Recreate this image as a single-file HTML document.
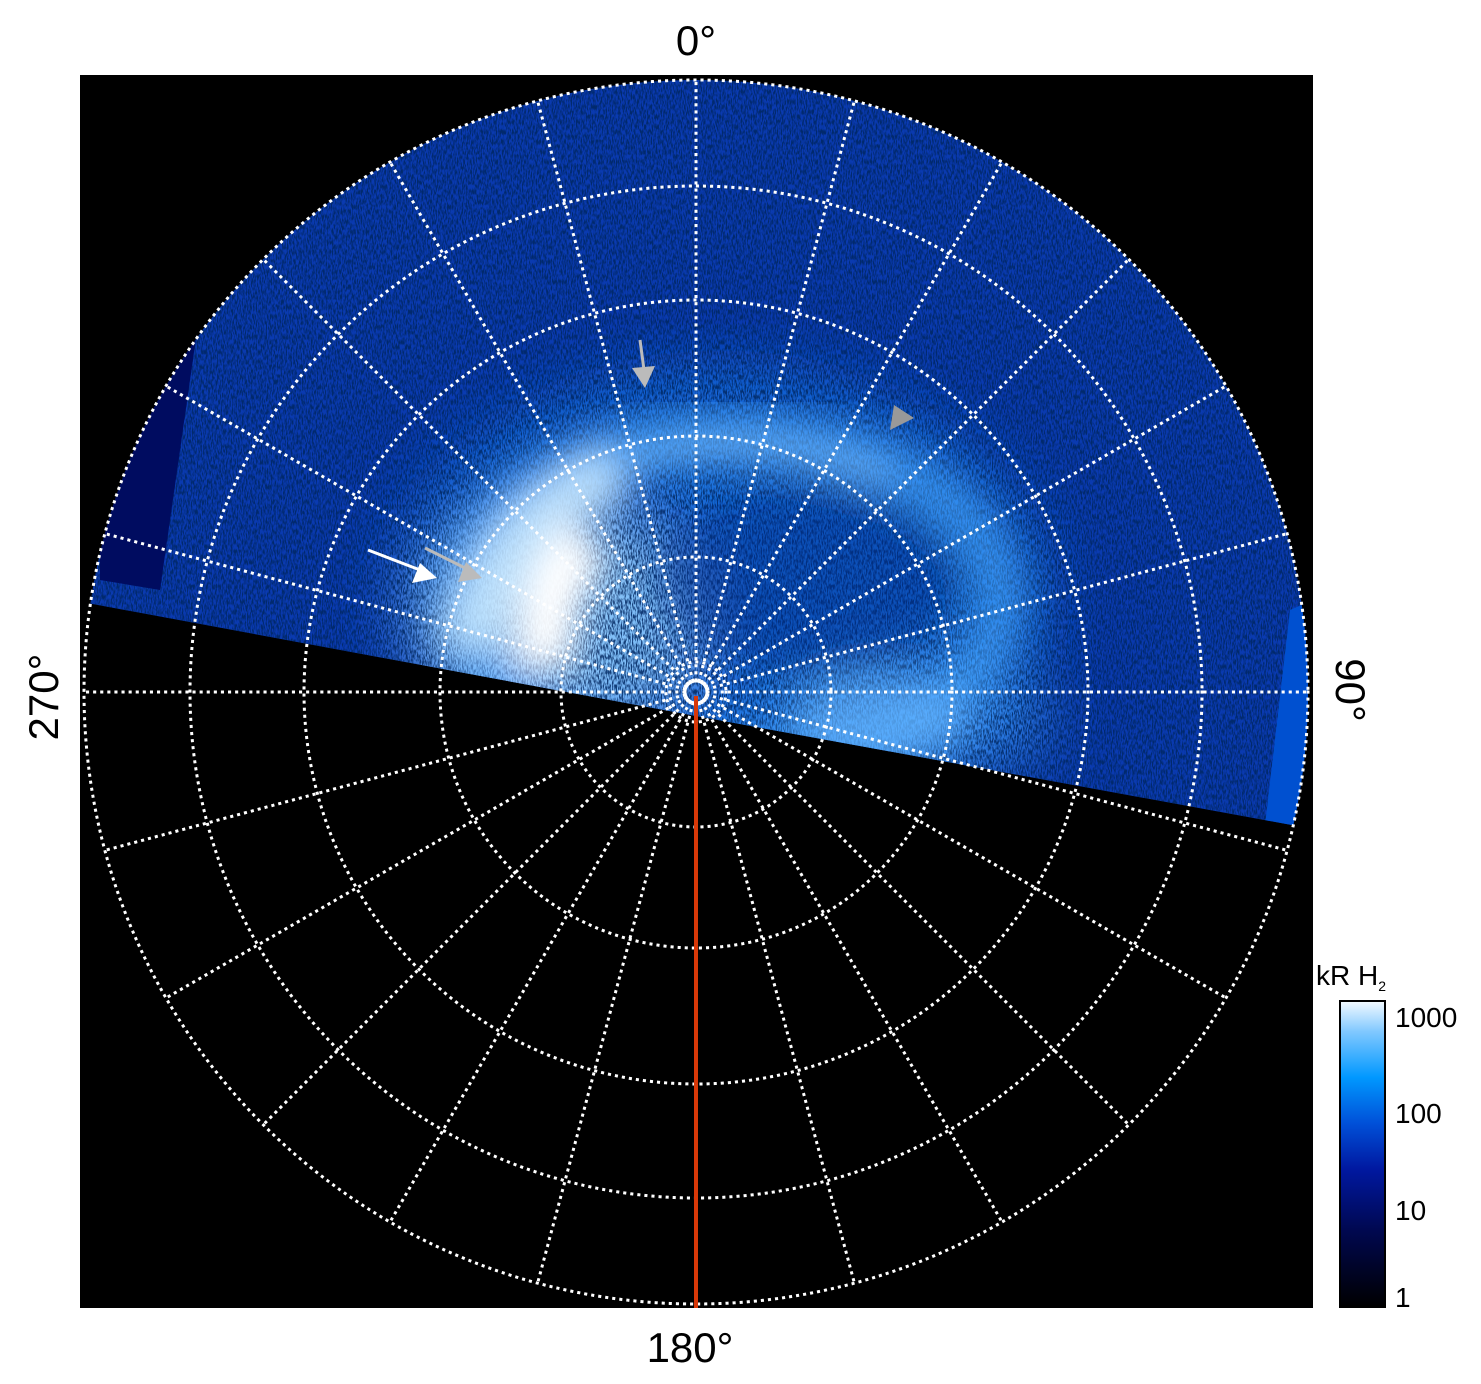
<!DOCTYPE html>
<html><head><style>
body{margin:0;background:#fff;}
svg{display:block;font-family:"Liberation Sans",sans-serif;}
</style></head><body>
<svg width="1481" height="1384" viewBox="0 0 1481 1384">
<defs>
<clipPath id="disk"><circle cx="696" cy="692" r="612"/></clipPath>
<clipPath id="lit"><polygon points="60,598 696,716 1330,832 1330,60 60,60"/></clipPath>
<filter id="noise" x="0" y="0" width="100%" height="100%">
<feTurbulence type="fractalNoise" baseFrequency="0.8 0.2" numOctaves="2" seed="3"/>
<feColorMatrix type="matrix" values="0 0 0 0 0.0  0 0 0 0 0.02  0 0 0 0 0.12  0 0 0 -4 2.4"/>
</filter>
<filter id="blur"><feGaussianBlur stdDeviation="30"/></filter>
<filter id="blur2"><feGaussianBlur stdDeviation="18"/></filter>
<linearGradient id="cb" x1="0" y1="1" x2="0" y2="0">
<stop offset="0" stop-color="#000"/><stop offset="0.25" stop-color="#000850"/>
<stop offset="0.45" stop-color="#0018a0"/><stop offset="0.6" stop-color="#0050d8"/>
<stop offset="0.75" stop-color="#0098ff"/><stop offset="0.9" stop-color="#80c8ff"/>
<stop offset="1" stop-color="#f4faff"/></linearGradient>
</defs>
<rect x="80" y="75" width="1233" height="1233" fill="#000"/>
<g clip-path="url(#disk)"><g clip-path="url(#lit)">
<rect x="80" y="75" width="1233" height="1233" fill="#0a3ab0"/>
<g filter="url(#blur)">
<ellipse cx="720" cy="600" rx="330" ry="230" fill="#1a7ae8" opacity="0.8"/>
<ellipse cx="560" cy="620" rx="140" ry="110" fill="#9ad4ff" opacity="0.8"/>
<ellipse cx="900" cy="720" rx="150" ry="70" fill="#3a98f8" opacity="0.7"/>
</g>
<rect x="80" y="75" width="1233" height="1233" filter="url(#noise)" opacity="0.85"/>
<g filter="url(#blur2)">
<ellipse cx="730" cy="600" rx="270" ry="165" fill="none" stroke="#4aa8ff" stroke-width="50" opacity="0.6"/>
<ellipse cx="810" cy="580" rx="150" ry="90" fill="#0a2c90" opacity="0.45"/>
<path d="M470 650 Q500 520 620 470" stroke="#c8e8ff" stroke-width="60" fill="none" opacity="0.9"/>
<path d="M545 670 Q540 590 590 540" stroke="#fff" stroke-width="60" fill="none"/>
<path d="M600 470 Q750 420 890 480" stroke="#80c4ff" stroke-width="16" fill="none"/>
<ellipse cx="880" cy="720" rx="90" ry="45" fill="#6ab8ff" opacity="0.6"/>
</g>
<polygon points="100,300 200,310 160,590 100,580" fill="#000c60"/>
<polygon points="1290,610 1313,600 1313,830 1265,825" fill="#0050d0"/>
</g></g>
<g fill="none" stroke="#fff" stroke-width="3" stroke-dasharray="0.1 7" stroke-linecap="square">
<circle cx="696" cy="692" r="135"/><circle cx="696" cy="692" r="256"/>
<circle cx="696" cy="692" r="392"/><circle cx="696" cy="692" r="506"/>
<circle cx="696" cy="692" r="612"/><circle cx="696" cy="692" r="30"/>
<g id="sp">
<line x1="696" y1="680" x2="696" y2="80"/>
<line x1="696" y1="680" x2="696" y2="80" transform="rotate(15 696 692)"/>
<line x1="696" y1="680" x2="696" y2="80" transform="rotate(30 696 692)"/>
<line x1="696" y1="680" x2="696" y2="80" transform="rotate(45 696 692)"/>
<line x1="696" y1="680" x2="696" y2="80" transform="rotate(60 696 692)"/>
<line x1="696" y1="680" x2="696" y2="80" transform="rotate(75 696 692)"/>
</g>
<use href="#sp" transform="rotate(90 696 692)"/>
<use href="#sp" transform="rotate(180 696 692)"/>
<use href="#sp" transform="rotate(270 696 692)"/>
</g>
<circle cx="696" cy="692" r="11" fill="none" stroke="#fff" stroke-width="3"/>
<line x1="696" y1="696" x2="696" y2="1308" stroke="#d83808" stroke-width="4"/>
<g stroke="#fff" stroke-width="3"><line x1="368" y1="550" x2="420" y2="570"/></g>
<polygon points="437,578 412,583 420,563" fill="#fff"/>
<polygon points="482,578 458,582 466,562" fill="#bbb"/><line x1="425" y1="548" x2="465" y2="568" stroke="#bbb" stroke-width="3"/>
<polygon points="645,388 632,368 655,366" fill="#bbb"/><line x1="640" y1="340" x2="644" y2="370" stroke="#bbb" stroke-width="3"/>
<polygon points="890,430 894,405 914,418" fill="#999"/>
<text x="696" y="55" font-size="42" text-anchor="middle">0°</text>
<text x="690" y="1362" font-size="42" text-anchor="middle">180°</text>
<text transform="translate(58,697) rotate(-90)" font-size="42" text-anchor="middle">270°</text>
<text transform="translate(1336,690) rotate(90)" font-size="42" text-anchor="middle">90°</text>
<rect x="1340" y="1001" width="45" height="306" fill="url(#cb)" stroke="#000" stroke-width="2"/>
<text x="1316" y="985" font-size="28">kR H<tspan font-size="14" dy="6">2</tspan></text>
<g font-size="28"><text x="1395" y="1027">1000</text><text x="1395" y="1123">100</text><text x="1395" y="1220">10</text><text x="1395" y="1307">1</text></g>
</svg>
</body></html>
